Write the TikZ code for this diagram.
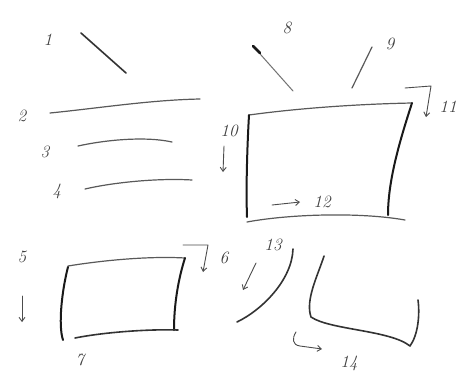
\documentclass[tikz,border=0pt]{standalone}
\usetikzlibrary{arrows.meta}
\begin{document}
\begin{tikzpicture}[x=1pt,y=-1pt,
  ink/.style={draw=black!80,line width=1.6pt,line cap=round,line join=round},
  thin ink/.style={draw=black!65,line width=1.2pt,line cap=round,line join=round},
  heavy ink/.style={draw=black!90,line width=2pt,line cap=round,line join=round},
  lbl/.style={font=\LARGE\itshape,text=black!75,inner sep=0pt},
  marker/.style={draw=black!70,line width=0.9pt,line cap=round,line join=round,-{Straight Barb[length=4pt,width=6pt]}}]
\fill[white] (0,0) rectangle (463,373);
\useasboundingbox (0,0) rectangle (463,373);
% stroke 1
\draw[ink] (81,33) -- (126,73);
% strokes 2-4
\draw[thin ink] (50,113) .. controls (100,108) and (150,100) .. (200,99);
\draw[thin ink] (78,146) .. controls (105,140) and (145,136) .. (172,142);
\draw[thin ink] (85,189) .. controls (115,182) and (160,178) .. (192,180);
% strokes 8, 9
\draw[thin ink,draw=black!55,line width=1pt] (253,46) -- (293,91);
\draw[heavy ink,line width=2.6pt] (253,46) -- (260,53);
\draw[thin ink] (372,47) -- (352,88);
% big box
\draw[thin ink] (249,115) .. controls (300,108) and (360,104) .. (412,103);
\draw[heavy ink] (249,115) .. controls (247,150) and (246,190) .. (247,217);
\draw[heavy ink] (412,103) .. controls (400,140) and (388,180) .. (388,215);
\draw[thin ink] (247,222) .. controls (290,214) and (360,212) .. (405,220);
% small box
\draw[thin ink] (68,266) .. controls (105,260) and (150,256) .. (185,258);
\draw[heavy ink] (68,267) .. controls (62,290) and (58,325) .. (63,340);
\draw[heavy ink] (185,258) .. controls (178,280) and (174,305) .. (174,330);
\draw[ink] (75,338) .. controls (105,332) and (150,329) .. (178,330);
% stroke 13
\draw[ink] (293,249) .. controls (292,280) and (262,310) .. (237,322);
% stroke 14
\draw[ink] (324,256) .. controls (318,275) and (305,300) .. (311,317)
  .. controls (330,330) and (390,330) .. (410,346)
  .. controls (418,335) and (420,315) .. (418,300);
% labels
\node[lbl] (l1) at (48,40) {1};
\node[lbl] (l2) at (22,116) {2};
\node[lbl] (l3) at (45,152) {3};
\node[lbl] (l4) at (57,191) {4};
\node[lbl] (l5) at (22,257) {5};
\node[lbl] (l6) at (224,258) {6};
\node[lbl] (l7) at (80,360) {7};
\node[lbl] (l8) at (287,28) {8};
\node[lbl] (l9) at (390,44) {9};
\node[lbl] (l10) at (229,131) {10};
\node[lbl] (l11) at (448,107) {11};
\node[lbl] (l12) at (322,202) {12};
\node[lbl] (l13) at (273,245) {13};
\node[lbl] (l14) at (349,363) {14};
% direction markers
\draw[marker] (224,146) -- (223,172);
\draw[marker] (405,88) -- (431,86) -- (426,117);
\draw[marker] (272,205) -- (300,202);
\draw[marker] (22,296) -- (22,322);
\draw[marker] (183,245) -- (208,245) -- (203,272);
\draw[marker] (256,263) -- (243,290);
\draw[marker] (296,332) .. controls (292,338) and (292,345) .. (300,346) -- (322,349);
\end{tikzpicture}
\end{document}
